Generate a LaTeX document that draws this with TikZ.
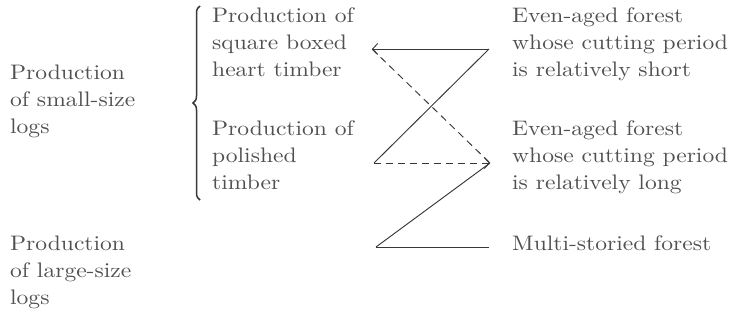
\documentclass[tikz,border=0pt]{standalone}
\usepackage{fontspec}
\setmainfont{lmroman10-regular}[Extension=.otf, FakeStretch=1.12]
\usetikzlibrary{arrows.meta,decorations.pathreplacing}
\definecolor{txt}{HTML}{505050}
\definecolor{ink}{HTML}{383838}
\newcommand{\myst}{\rule{0pt}{16pt}}
\tikzset{
  lbl/.style={anchor=north west, inner sep=0pt, align=left, text=txt,
              font=\fontsize{21}{27}\selectfont},
  conn/.style={draw=ink, line width=0.95pt},
  dsh/.style={conn, dash pattern=on 7pt off 5pt},
  barb/.style={-{Straight Barb[length=5pt,width=11pt]}},
  bracestyle/.style={draw=ink, line width=1.5pt, decorate,
                     decoration={brace, amplitude=7pt}}
}
\begin{document}
\begin{tikzpicture}[x=1pt, y=-1pt]
  \useasboundingbox (0,0) rectangle (730,322);
  % texts
  \node[lbl] (L1) at (10,63)  {\myst Production\\of small-size\\logs};
  \node[lbl] (L2) at (10,234) {\myst Production\\of large-size\\logs};
  \node[lbl] (M1) at (212,6) {\myst Production of\\square boxed\\heart timber};
  \node[lbl] (M2) at (212,119) {\myst Production of\\polished\\timber};
  \node[lbl] (R1) at (512,6) {\myst Even-aged forest\\whose cutting period\\is relatively short};
  \node[lbl] (R2) at (512,119) {\myst Even-aged forest\\whose cutting period\\is relatively long};
  \node[lbl] (R3) at (512,234) {\myst Multi-storied forest};
  % brace
  \draw[bracestyle] (200,200) -- (200,6);
  % connector end points
  \coordinate (a1) at (372,49);
  \coordinate (a2) at (489,49);
  \coordinate (b1) at (374,163);
  \coordinate (b2) at (490,163);
  \coordinate (c1) at (376,247);
  \coordinate (c2) at (489,247);
  % connectors
  \draw[conn, barb] (a2) -- (a1);
  \draw[dsh] (a1) -- (b2);
  \draw[conn] (a2) -- (b1);
  \draw[dsh, barb] (b1) -- (b2);
  \draw[conn] (b2) -- (c1);
  \draw[conn] (c1) -- (c2);
\end{tikzpicture}
\end{document}
